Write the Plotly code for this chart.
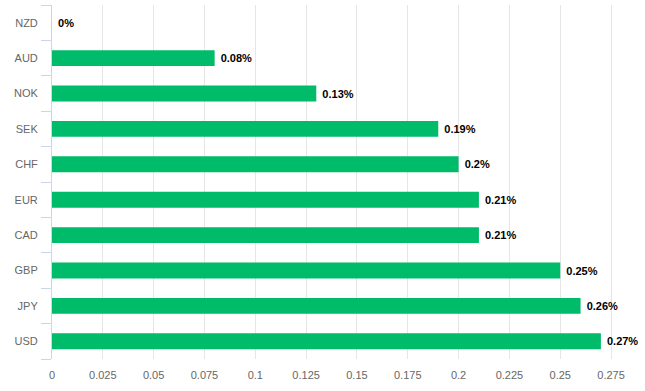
import plotly.graph_objects as go

currencies = ["NZD", "AUD", "NOK", "SEK", "CHF", "EUR", "CAD", "GBP", "JPY", "USD"]
values = [0, 0.08, 0.13, 0.19, 0.2, 0.21, 0.21, 0.25, 0.26, 0.27]
labels = ["0%", "0.08%", "0.13%", "0.19%", "0.2%", "0.21%", "0.21%", "0.25%", "0.26%", "0.27%"]
x_ticks = [0, 0.025, 0.05, 0.075, 0.1, 0.125, 0.15, 0.175, 0.2, 0.225, 0.25, 0.275]
x_tick_text = ["0", "0.025", "0.05", "0.075", "0.1", "0.125", "0.15", "0.175", "0.2", "0.225", "0.25", "0.275"]

fig = go.Figure(go.Bar(
    x=values, y=currencies, orientation="h",
    marker=dict(color="#00bb6a", line=dict(width=0)),
    text=labels, texttemplate="\u00a0%{text}", textposition="outside", cliponaxis=False,
    textfont=dict(family="Liberation Sans, Arial, sans-serif", size=11, color="#000000", weight="bold"),
    width=0.45,
))

fig.update_layout(
    width=645, height=391,
    margin=dict(l=52, r=13, t=5, b=32),
    paper_bgcolor="white", plot_bgcolor="white",
    showlegend=False,
    font=dict(family="Liberation Sans, Arial, sans-serif", size=11, color="#666666"),
    xaxis=dict(
        range=[0, 0.2853], tickvals=x_ticks, ticktext=x_tick_text,
        showgrid=True, gridcolor="#e6e6e6", gridwidth=1,
        zeroline=False, showline=False, ticks="",
        ticklabelstandoff=8,
        tickfont=dict(size=11, color="#666666"),
        automargin=False,
    ),
    yaxis=dict(
        categoryorder="array", categoryarray=currencies[::-1],
        showgrid=False, zeroline=False,
        showline=True, linecolor="#ccd6eb", linewidth=1,
        ticks="outside", tickson="boundaries", ticklen=10, tickcolor="#ccd6eb",
        ticklabelstandoff=11,
        tickfont=dict(size=11, color="#666666"),
        automargin=False,
    ),
)

fig.write_html("out.html", config={"displayModeBar": False},
               post_script="document.body.style.margin='0';document.body.style.overflow='hidden';")
